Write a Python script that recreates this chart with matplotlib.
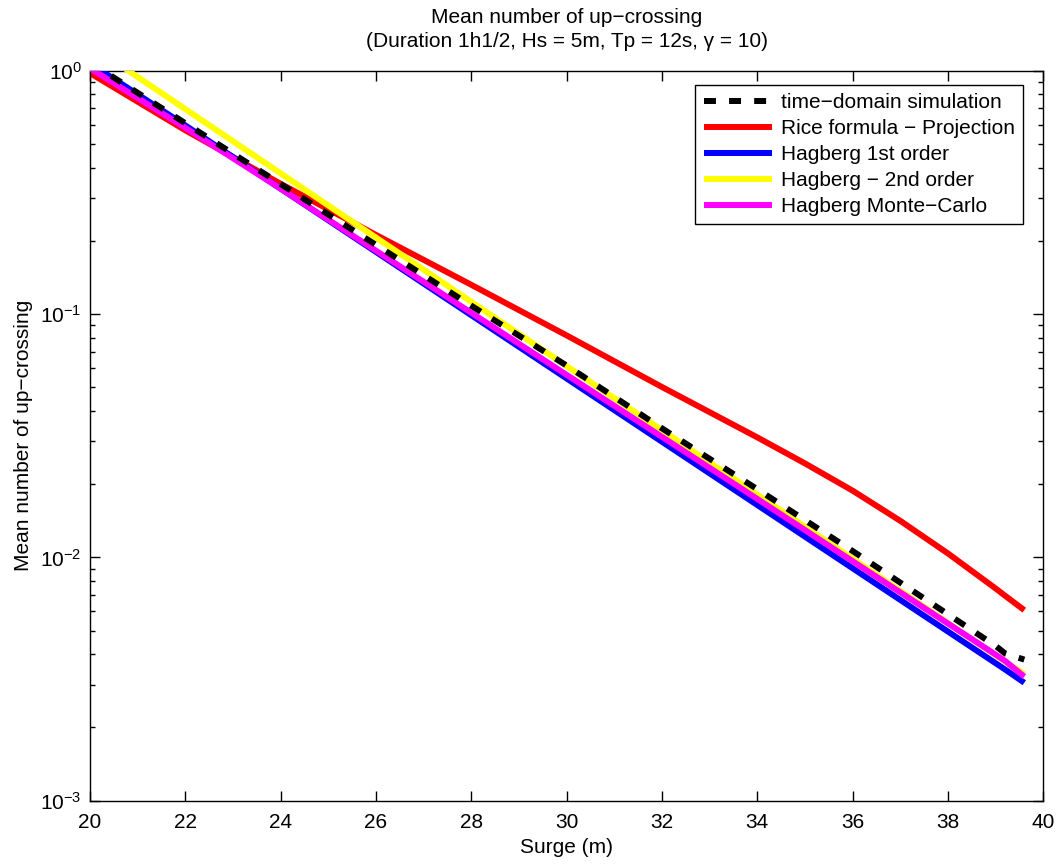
import matplotlib
matplotlib.use("Agg")
import matplotlib.pyplot as plt
import numpy as np
from matplotlib.ticker import LogLocator, FixedLocator

plt.rcParams['font.family'] = ['Liberation Sans', 'DejaVu Sans']
plt.rcParams['mathtext.fontset'] = 'custom'
plt.rcParams['mathtext.rm'] = 'Liberation Sans'
plt.rcParams['mathtext.it'] = 'Liberation Sans:italic'

# Data (log10 of mean number of up-crossings)
surge = [20, 22, 24, 26, 28, 30, 32, 34, 35, 36, 37, 38, 39, 39.2, 39.6]
log_sim = [0.034, -0.216, -0.466, -0.716, -0.966, -1.212, -1.470, -1.720, -1.847, -1.974, -2.104, -2.234, -2.364, -2.395, -2.420]
log_rice = [-0.010, -0.245, -0.465, -0.675, -0.880, -1.088, -1.300, -1.507, -1.614, -1.726, -1.850, -1.984, -2.128, -2.158, -2.217]
log_hag1 = [0.030, -0.225, -0.485, -0.745, -1.005, -1.265, -1.525, -1.785, -1.915, -2.045, -2.175, -2.305, -2.435, -2.461, -2.515]
log_hag2 = [0.106, -0.158, -0.422, -0.686, -0.950, -1.214, -1.478, -1.742, -1.874, -2.006, -2.138, -2.270, -2.402, -2.428, -2.480]
log_hagmc = [0.010, -0.235, -0.485, -0.740, -0.995, -1.250, -1.505, -1.760, -1.888, -2.016, -2.144, -2.272, -2.400, -2.426, -2.490]

labels = ["time\u2212domain simulation", "Rice formula \u2212 Projection",
          "Hagberg 1st order", "Hagberg \u2212 2nd order", "Hagberg Monte\u2212Carlo"]
xticks = [20, 22, 24, 26, 28, 30, 32, 34, 36, 38, 40]

fig = plt.figure(figsize=(10.64, 8.65), dpi=100)
ax = fig.add_axes([0.0846, 0.0743, 0.896, 0.844])

lw = 4.3
x = np.array(surge)
l_rice, = ax.semilogy(x, 10 ** np.array(log_rice), color='#ff0000', lw=lw, zorder=2, solid_capstyle='butt')
l_h1, = ax.semilogy(x, 10 ** np.array(log_hag1), color='#0000ff', lw=lw, zorder=3, solid_capstyle='butt')
l_mc, = ax.semilogy(x, 10 ** np.array(log_hagmc), color='#ff00ff', lw=lw, zorder=4, solid_capstyle='butt')
l_h2, = ax.semilogy(x, 10 ** np.array(log_hag2), color='#ffff00', lw=lw, zorder=3.5, solid_capstyle='butt')
l_sim, = ax.semilogy(x, 10 ** np.array(log_sim), color='black', lw=lw, zorder=6,
                     linestyle=(0, (2.0, 2.2)), dash_capstyle='butt')

ax.set_xlim(20, 40)
ax.set_ylim(1e-3, 1)
ax.xaxis.set_major_locator(FixedLocator(xticks))
ax.yaxis.set_major_locator(LogLocator(base=10, numticks=10))
ax.yaxis.set_minor_locator(LogLocator(base=10, subs=np.arange(2, 10), numticks=20))

fs = 15
ax.tick_params(which='both', direction='in', top=True, right=True, labelsize=fs, width=1.0)
ax.tick_params(which='major', length=7)
ax.tick_params(which='minor', length=3.6)
ax.tick_params(axis='x', pad=9)
ax.tick_params(axis='y', pad=6)
for s in ax.spines.values():
    s.set_linewidth(1.0)

ax.set_xlabel("Surge (m)", fontsize=fs, labelpad=4)
ax.set_ylabel("Mean number of up\u2212crossing", fontsize=fs, labelpad=5)
ax.set_title("Mean number of up\u2212crossing\n(Duration 1h1/2, Hs = 5m, Tp = 12s, \u03b3 = 10)",
             fontsize=fs, pad=17, linespacing=1.35)

leg = ax.legend([l_sim, l_rice, l_h1, l_h2, l_mc], labels, loc='upper right',
                bbox_to_anchor=(0.9787, 0.9804), borderaxespad=0.0,
                fontsize=fs, fancybox=False, edgecolor='black', framealpha=1,
                handlelength=3.3, labelspacing=0.33, handletextpad=0.4,
                borderpad=0.4)
leg.get_frame().set_linewidth(1.0)

fig.savefig("out.png", dpi=100)
